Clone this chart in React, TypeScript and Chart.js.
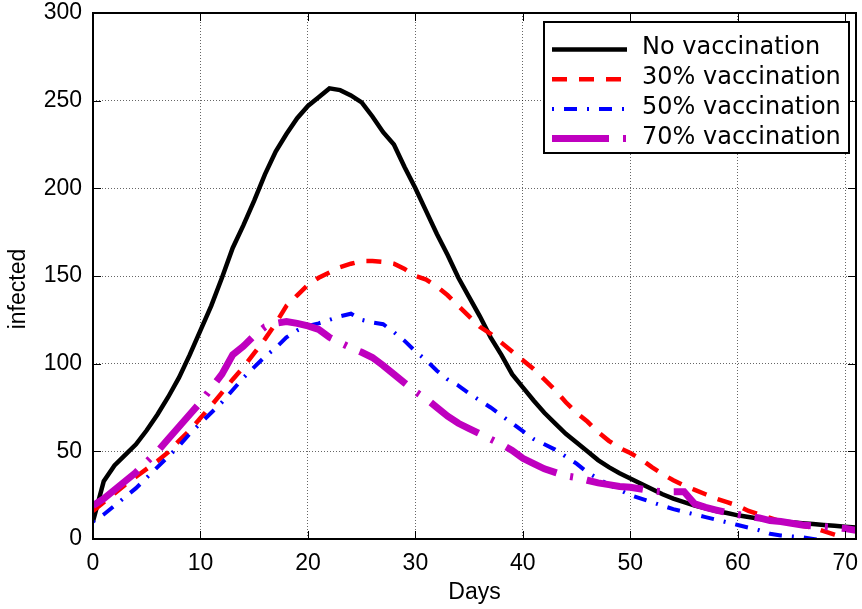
import React, { useEffect, useRef } from "react";
import { Chart, registerables } from "chart.js";

Chart.register(...registerables);

const days = [
  0, 1, 2, 3, 4, 5, 6, 7, 8, 9, 10, 11, 12, 13, 14, 15, 16, 17, 18, 19, 20, 21, 22, 23, 24, 25,
  26, 27, 28, 29, 30, 31, 32, 33, 34, 35, 36, 37, 38, 39, 40, 41, 42, 43, 44, 45, 46, 47, 48, 49,
  50, 51, 52, 53, 54, 55, 56, 57, 58, 59, 60, 61, 62, 63, 64, 65, 66, 67, 68, 69, 70, 71,
];

const noVaccination = [
  10, 33, 42, 48, 54, 62, 71, 81, 92, 105, 119, 133, 149, 166, 179, 193, 208, 221, 231, 240,
  247, 252, 257, 256, 253, 249, 241, 232, 225, 212, 200, 187, 174, 162, 149, 138, 127, 115, 105, 94,
  86.5, 79, 72, 66, 60, 55, 50, 45, 41, 37.5, 34.5, 31.5, 28.5, 25.5, 23, 21, 19, 17.5, 16, 14.8,
  13.5, 12.5, 11.5, 10.5, 10, 9.5, 9, 8.5, 8, 7.5, 7, 6.5,
];

const vaccination30 = [
  16, 21, 26, 31, 35.5, 40, 44.5, 49.5, 56, 62, 69, 76, 83.5, 91, 98, 106, 114, 123, 133, 139,
  145, 149, 152, 155, 157, 158.5, 158.5, 158, 157, 154, 150, 148, 144, 139, 133, 127, 121, 117, 112, 107,
  102, 97, 91, 85, 78, 72, 67, 61, 56, 52, 49, 45.5, 41, 37, 33.5, 30.5, 28, 25.5, 23, 21,
  19, 16, 14, 12, 10, 9, 7.5, 6.5, 4.5, 2.5, 0.5,
];

const vaccination50 = [
  10, 14, 19, 24, 29, 35, 41, 47, 53, 60, 66, 72, 78, 85, 92, 98, 104, 109, 115, 119,
  121.5, 123, 125, 127, 128.5, 125, 123.5, 122.5, 118, 113, 107, 102, 96, 91, 87.5, 83, 79, 75, 70.5, 66,
  61.5, 57, 54, 51, 47, 43, 38, 34.5, 31, 28, 25, 23, 21, 19, 17, 15.5, 14, 12.5, 11, 9.5,
  8, 6.5, 5, 3, 2, 1.5, 1, 0, -1, -2, -2.5,
];

const vaccination70 = [
  19, 23, 28, 33, 38, 44, 50, 57, 64, 71, 78, 86, 94, 105, 110, 116, 121, 123, 124, 123,
  121.5, 119.5, 115, 112, 109, 106.5, 103.5, 99, 94, 89, 84, 80, 75, 70, 66, 63, 60, 57, 54, 50.5,
  46, 43, 40, 38, 36, 35, 33.5, 32, 31, 30, 29.5, 28.5, 27.5, 27, 27, 27, 20, 18, 16.5, 15,
  14, 13, 12, 10.5, 10, 9, 8, 7.5, 7, 6.5, 6, 5,
];

const seriesLabels = ["No vaccination", "30% vaccination", "50% vaccination", "70% vaccination"];
const seriesColors = ["#000000", "#ff0000", "#0000ff", "#bf00bf"];
const seriesWidths = [4.5, 4.5, 4, 7];
const seriesDashes: number[][] = [[], [15, 12], [2, 10, 13, 10], [57, 14, 3, 14]];
const seriesValues = [noVaccination, vaccination30, vaccination50, vaccination70];
const seriesOrder = [3, 2, 1, 0];

const xTitle = "Days";
const yTitle = "infected";

const tickFont = { family: "'Liberation Sans', Arial, sans-serif", size: 23 };

const framePlugin = {
  id: "framePlugin",
  afterDatasetsDraw(chart: any) {
    const { ctx, chartArea: a, scales } = chart;
    ctx.save();
    ctx.setLineDash([]);
    ctx.strokeStyle = "#000";
    // inner tick marks
    ctx.lineWidth = 1;
    const tl = 8;
    scales.x.ticks.forEach((t: any) => {
      const px = Math.round(scales.x.getPixelForValue(t.value)) + 0.5;
      ctx.beginPath();
      ctx.moveTo(px, a.bottom);
      ctx.lineTo(px, a.bottom - tl);
      ctx.moveTo(px, a.top);
      ctx.lineTo(px, a.top + tl);
      ctx.stroke();
    });
    scales.y.ticks.forEach((t: any) => {
      const py = Math.round(scales.y.getPixelForValue(t.value)) + 0.5;
      ctx.beginPath();
      ctx.moveTo(a.left, py);
      ctx.lineTo(a.left + tl, py);
      ctx.moveTo(a.right, py);
      ctx.lineTo(a.right - tl, py);
      ctx.stroke();
    });
    // frame
    ctx.lineWidth = 2;
    ctx.strokeRect(a.left, a.top, a.right - a.left, a.bottom - a.top);

    // legend
    const bx = a.right - 312;
    const by = a.top + 9;
    const bw = 305;
    const bh = 131;
    ctx.fillStyle = "#fff";
    ctx.fillRect(bx, by, bw, bh);
    ctx.lineWidth = 2;
    ctx.strokeStyle = "#000";
    ctx.strokeRect(bx, by, bw, bh);
    ctx.font = "24px 'DejaVu Sans', sans-serif";
    ctx.textAlign = "left";
    ctx.textBaseline = "alphabetic";
    seriesLabels.forEach((label, i) => {
      const ly = by + 27.5 + i * 29.7;
      ctx.beginPath();
      ctx.setLineDash(seriesDashes[i]);
      ctx.lineWidth = seriesWidths[i];
      ctx.strokeStyle = seriesColors[i];
      ctx.moveTo(bx + 8, ly);
      ctx.lineTo(bx + 83, ly);
      ctx.stroke();
      ctx.setLineDash([]);
      ctx.fillStyle = "#000";
      ctx.fillText(label, bx + 98, by + 31.5 + i * 30.2);
    });

    // y title
    ctx.save();
    ctx.translate(19, 289);
    ctx.rotate(-Math.PI / 2);
    ctx.font = "23px 'Liberation Sans', Arial, sans-serif";
    ctx.textAlign = "center";
    ctx.textBaseline = "middle";
    ctx.fillStyle = "#000";
    ctx.fillText(yTitle, 0, 0);
    ctx.restore();

    ctx.restore();
  },
};

export default function App() {
  const canvasRef = useRef<HTMLCanvasElement | null>(null);

  useEffect(() => {
    document.body.style.margin = "0";
    const canvas = canvasRef.current;
    if (!canvas) return;
    const datasets = seriesValues.map((vals, i) => ({
      label: seriesLabels[i],
      data: vals.map((v, k) => ({ x: days[k], y: v })),
      borderColor: seriesColors[i],
      backgroundColor: seriesColors[i],
      borderWidth: seriesWidths[i],
      borderDash: seriesDashes[i],
      pointRadius: 0,
      tension: 0,
      fill: false,
      clip: 0,
      order: seriesOrder[i],
    }));
    const chart = new Chart(canvas, {
      type: "line",
      data: { datasets },
      plugins: [framePlugin],
      options: {
        animation: false,
        responsive: false,
        devicePixelRatio: 1,
        layout: { padding: { left: 0, right: 6, top: 13, bottom: 0 } },
        plugins: { legend: { display: false }, tooltip: { enabled: false } },
        scales: {
          x: {
            type: "linear",
            min: 0,
            max: 71,
            ticks: {
              stepSize: 10,
              includeBounds: false,
              font: tickFont,
              color: "#000",
              padding: 11,
              maxRotation: 0,
            },
            grid: { color: "rgba(0,0,0,0.6)", lineWidth: 1, drawTicks: false },
            border: { display: false, dash: [1, 2] },
            title: {
              display: true,
              text: xTitle,
              font: { family: "'Liberation Sans', Arial, sans-serif", size: 23 },
              color: "#000",
              padding: { top: 4, bottom: 3 },
            },
            afterFit: (s: any) => {
              s.height = 70;
              s.paddingLeft = 0;
              s.paddingRight = 0;
            },
          },
          y: {
            type: "linear",
            min: 0,
            max: 300,
            ticks: { stepSize: 50, font: tickFont, color: "#000", padding: 11 },
            grid: { color: "rgba(0,0,0,0.6)", lineWidth: 1, drawTicks: false },
            border: { display: false, dash: [1, 2] },
            afterFit: (s: any) => {
              s.width = 93;
              s.paddingTop = 0;
              s.paddingBottom = 0;
            },
          },
        },
      } as any,
    });
    return () => chart.destroy();
  }, []);

  return (
    <div style={{ width: 862, height: 609, background: "#fff" }}>
      <canvas ref={canvasRef} width={862} height={609} style={{ display: "block", width: 862, height: 609 }} />
    </div>
  );
}
